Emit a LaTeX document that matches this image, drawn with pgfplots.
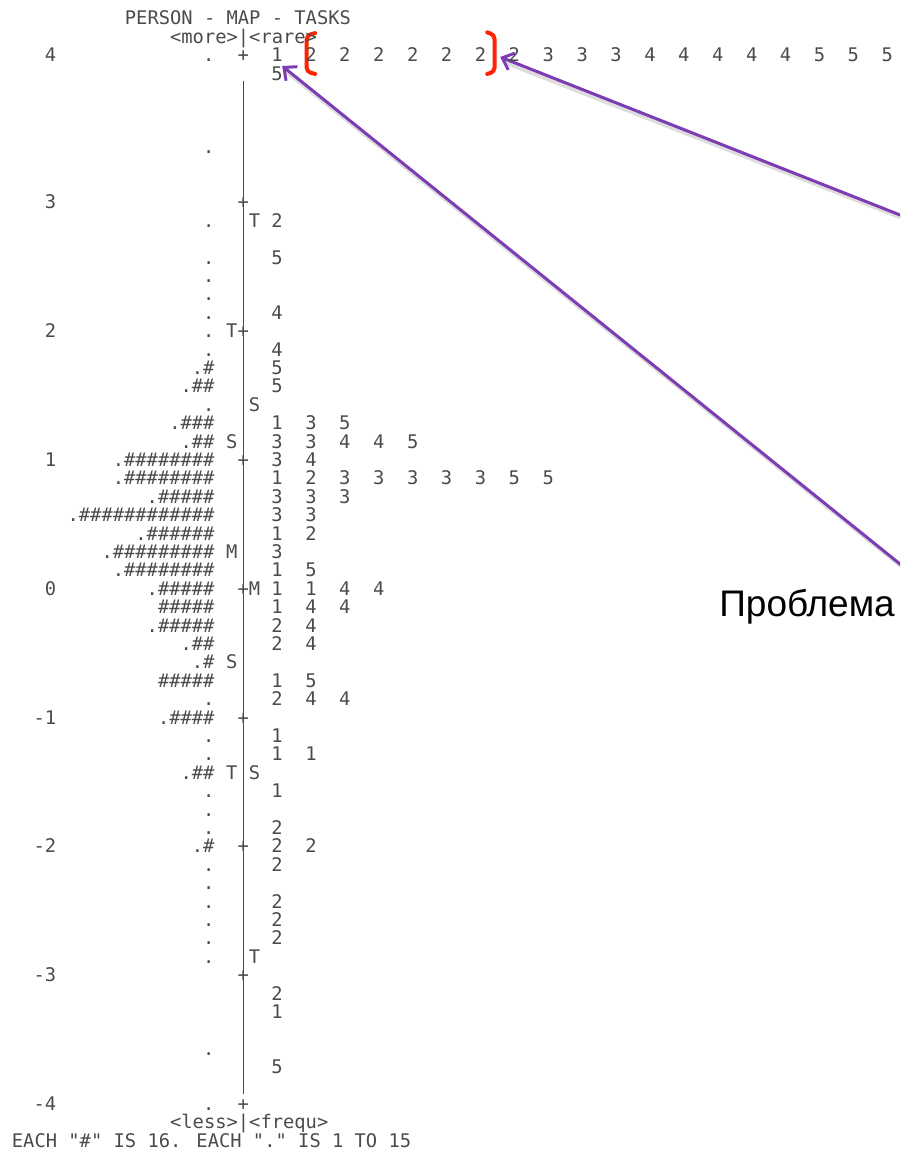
\documentclass[border=0pt]{standalone}
\usepackage{fontspec}
\usepackage{pgfplots}
\pgfplotsset{compat=1.18}
\usepackage{pgfplotstable}
\usetikzlibrary{arrows.meta}
\setmainfont{Liberation Sans}
\newfontfamily\monofam{DejaVu Sans Mono}
\newfontfamily\arialfam{Liberation Sans}
\newcommand\monotext{\monofam\fontsize{9.385}{11}\selectfont}
% code = 100*(leading dot) + (number of #)
\ExplSyntaxOn
\cs_new:Npn \persons #1
  {
    \int_compare:nNnT {#1} > {99} {.}
    \prg_replicate:nn { \int_mod:nn {#1} {100} } {\#}
  }
\ExplSyntaxOff
\definecolor{tg}{RGB}{75,75,75}
\definecolor{apurple}{RGB}{125,60,180}
\definecolor{bred}{RGB}{255,35,0}

% persons: row, code (100 = leading dot, plus number of #)
\pgfplotstableread{
r p
-8 100
-3 100
1 100
3 100
4 100
5 100
6 100
7 100
8 100
9 101
10 102
11 100
12 103
13 102
14 108
15 108
16 105
17 112
18 106
19 109
20 108
21 105
22 5
23 105
24 102
25 101
26 5
27 100
28 104
29 100
30 100
31 102
32 100
33 100
34 100
35 101
36 100
37 100
38 100
39 100
40 100
41 100
46 100
49 100
}\persontab

% items: row, slot, task label
\pgfplotstableread{
r j v
-8 0 1
-8 1 2
-8 2 2
-8 3 2
-8 4 2
-8 5 2
-8 6 2
-8 7 2
-8 8 3
-8 9 3
-8 10 3
-8 11 4
-8 12 4
-8 13 4
-8 14 4
-8 15 4
-8 16 5
-8 17 5
-8 18 5
-7 0 5
1 0 2
3 0 5
6 0 4
8 0 4
9 0 5
10 0 5
12 0 1
12 1 3
12 2 5
13 0 3
13 1 3
13 2 4
13 3 4
13 4 5
14 0 3
14 1 4
15 0 1
15 1 2
15 2 3
15 3 3
15 4 3
15 5 3
15 6 3
15 7 5
15 8 5
16 0 3
16 1 3
16 2 3
17 0 3
17 1 3
18 0 1
18 1 2
19 0 3
20 0 1
20 1 5
21 0 1
21 1 1
21 2 4
21 3 4
22 0 1
22 1 4
22 2 4
23 0 2
23 1 4
24 0 2
24 1 4
26 0 1
26 1 5
27 0 2
27 1 4
27 2 4
29 0 1
30 0 1
30 1 1
32 0 1
34 0 2
35 0 2
35 1 2
36 0 2
38 0 2
39 0 2
40 0 2
43 0 2
44 0 1
47 0 5
}\itemtab

% markers: column, row, symbol
\pgfplotstableread{
c r m
-1 7 T
-1 13 S
-1 19 M
-1 25 S
-1 31 T
1 1 T
1 11 S
1 21 M
1 31 S
1 41 T
0 -8 +
0 0 +
0 7 +
0 14 +
0 21 +
0 28 +
0 35 +
0 42 +
0 49 +
}\marktab

\pgfplotsset{
  txt/.style={only marks, mark=none, nodes near coords,
    every node near coord/.append style={font=\monotext, text=tg, inner sep=0pt,
      text height=6.84pt, text depth=0pt, anchor=#1}},
  txt/.default=center,
}

\begin{document}
\begin{tikzpicture}
\begin{axis}[
  scale only axis, width=450pt, height=574.5pt,
  xmin=-21.504, xmax=58.142, ymin=-10.978, ymax=51.467, y dir=reverse,
  axis line style={draw=none}, xtick=\empty,
  ytick={-8,0,7,14,21,28,35,42,49},
  yticklabels={4,3,2,1,0,-1,-2,-3,-4},
  ytick pos=left, major tick length=0pt,
  yticklabel style={font=\monotext, text=tg, inner sep=0pt, anchor=east,
    xshift=28.25pt, text height=6.84pt, text depth=0pt},
]
% centre line
\addplot[tg, line width=0.6pt] coordinates {(0,-6.6) (0,48.5)};
% persons
\addplot[txt=east, point meta=explicit symbolic,
  nodes near coords={\persons{\pgfplotspointmeta}}]
  table[x expr=-2.5, y=r, meta=p] {\persontab};
% tasks
\addplot[txt, point meta=explicit symbolic]
  table[x expr=3+3*\thisrow{j}, y=r, meta=v] {\itemtab};
% markers
\addplot[txt, point meta=explicit symbolic]
  table[x=c, y=r, meta=m] {\marktab};
% header and footer text
\addplot[txt=west, nodes near coords={PERSON - MAP - TASKS}] coordinates {(-10.5,-10)};
\addplot[txt=west, nodes near coords={<more>|<rare>}] coordinates {(-6.5,-9)};
\addplot[txt=west, nodes near coords={<less>|<frequ>}] coordinates {(-6.5,50)};
\addplot[txt=west, nodes near coords={EACH "\#" IS 16. EACH "." IS 1 TO 15}] coordinates {(-20.5,51)};
% red brackets
\addplot[bred, line width=2pt, rounded corners=2pt, line cap=round] coordinates {(6.37,-9.18) (5.62,-9.05) (5.62,-7.08) (6.37,-6.96)};
\addplot[bred, line width=2pt, rounded corners=2pt, line cap=round] coordinates {(21.59,-9.22) (22.24,-9.08) (22.24,-7.08) (21.59,-6.96)};
% arrow shadows
\addplot[black!22, line width=2pt, opacity=0.6] coordinates {(58.78,0.98) (23.1,-7.6)};
\addplot[black!22, line width=2pt, opacity=0.6] coordinates {(58.78,20.07) (3.8,-7.1)};
% arrows
\addplot[apurple, line width=1.5pt, line cap=round, -{Straight Barb[length=5pt,width=9pt]}] coordinates {(58.58,0.815) (22.74,-7.88)};
\addplot[apurple, line width=1.5pt, line cap=round, -{Straight Barb[length=5pt,width=9pt]}] coordinates {(58.58,19.9) (3.45,-7.39)};
% annotation text
\addplot[only marks, mark=none, nodes near coords={Проблема},
  every node near coord/.append style={font=\arialfam\fontsize{18.5}{21}\selectfont, text=black, inner sep=0pt, anchor=base west}]
  coordinates {(42.1,22.5)};
\end{axis}
\end{tikzpicture}
\end{document}
